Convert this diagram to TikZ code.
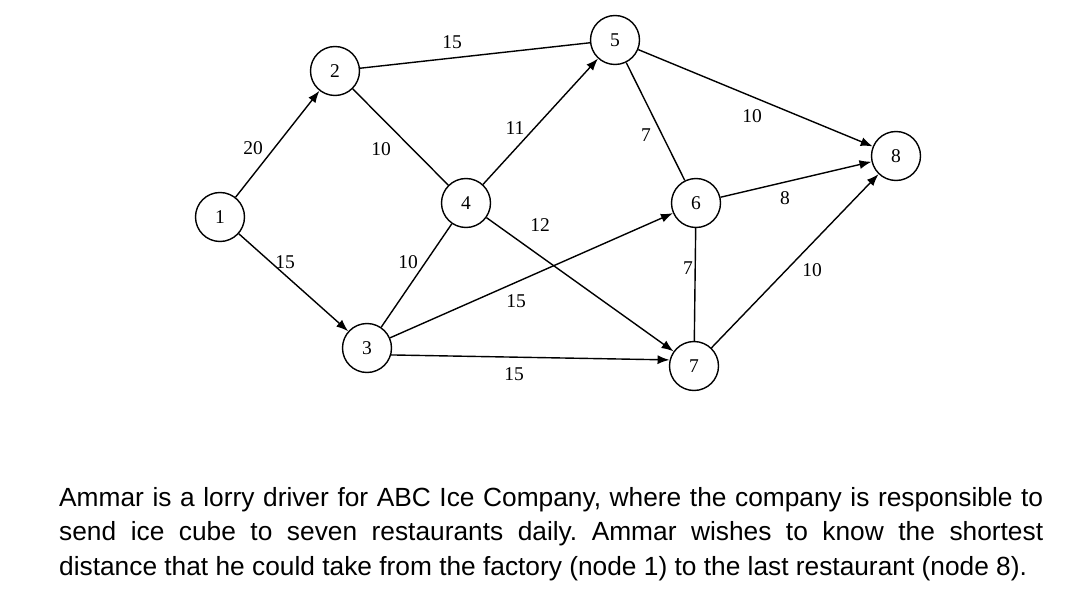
\documentclass[tikz,border=0pt]{standalone}
\usepackage{fontspec}
\setmainfont{Liberation Serif}
\newfontfamily\bodyfont{Liberation Sans}
\usetikzlibrary{arrows.meta}
\begin{document}
\begin{tikzpicture}[x=1pt,y=-1pt,
  vert/.style={circle,draw,line width=1.4pt,minimum size=49pt,inner sep=0pt,font=\fontsize{19.5}{19.5}\selectfont},
  edge/.style={line width=1.4pt},
  arr/.style={line width=1.4pt,-{Latex[length=12pt,width=9pt]}},
  lbl/.style={inner sep=0pt,font=\fontsize{19.5}{19.5}\selectfont}]
\useasboundingbox (0,0) rectangle (1080,615);
\node[vert] (n1) at (220,217) {1};
\node[vert] (n2) at (335,71) {2};
\node[vert] (n3) at (367,348) {3};
\node[vert] (n4) at (466,203) {4};
\node[vert] (n5) at (615,40) {5};
\node[vert] (n6) at (696,203) {6};
\node[vert] (n7) at (694,366) {7};
\node[vert] (n8) at (896,156) {8};
\draw[arr] (n1) -- (n2);
\draw[arr] (n1) -- (n3);
\draw[edge] (n2) -- (n5);
\draw[edge] (n2) -- (n4);
\draw[edge] (n3) -- (n4);
\draw[arr] (n4) -- (n5);
\draw[arr] (n4) -- (n7);
\draw[arr] (n3) -- (n6);
\draw[arr] (n3.-16) -- (n7.166);
\draw[edge] (n5) -- (n6);
\draw[arr] (n5) -- (n8);
\draw[arr] (n6) -- (n8);
\draw[edge] (n6) -- (n7);
\draw[arr] (n7) -- (n8);
\node[lbl] (l25) at (452,42) {15};
\node[lbl] (l12) at (253,148) {20};
\node[lbl] (l24) at (381,149) {10};
\node[lbl] (l45) at (515,128) {11};
\node[lbl] (l56) at (646,135) {7};
\node[lbl] (l58) at (752,116) {10};
\node[lbl] (l68) at (785,198) {8};
\node[lbl] (l47) at (540,225) {12};
\node[lbl] (l13) at (285,262) {15};
\node[lbl] (l34) at (408,262) {10};
\node[lbl] (l67) at (688,268) {7};
\node[lbl] (l78) at (812,270) {10};
\node[lbl] (l36) at (516,301) {15};
\node[lbl] (l37) at (514,374) {15};
\node[anchor=north west,inner sep=0pt,text width=984pt,align=justify,
  font=\bodyfont\fontsize{26.3}{34.5}\selectfont\frenchspacing] (txt) at (59,487)
  {Ammar is a lorry driver for ABC Ice Company, where the company is responsible to\linebreak
   send ice cube to seven restaurants daily. Ammar wishes to know the shortest\linebreak
   distance that he could take from the factory (node 1) to the last restaurant (node 8).};
\end{tikzpicture}
\end{document}
